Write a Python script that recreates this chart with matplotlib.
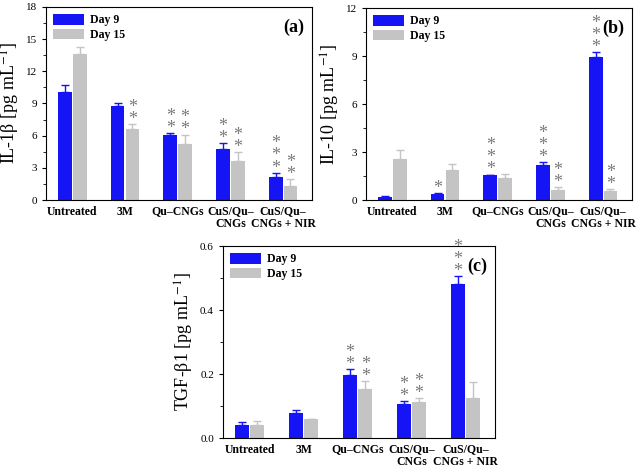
import numpy as np
import matplotlib.pyplot as plt
from matplotlib.ticker import AutoMinorLocator

plt.rcParams['font.family'] = ['Liberation Serif', 'DejaVu Serif']
plt.rcParams['mathtext.fontset'] = 'stix'

groups = ['Untreated', '3M', 'Qu\u2013CNGs', 'CuS/Qu\u2013\nCNGs', 'CuS/Qu\u2013\nCNGs + NIR']

il1b_d9 = [10.1, 8.8, 6.1, 4.8, 2.15]
il1b_d9_err = [0.6, 0.2, 0.15, 0.5, 0.4]
il1b_d15 = [13.6, 6.6, 5.2, 3.6, 1.35]
il1b_d15_err = [0.7, 0.5, 0.9, 0.9, 0.6]
il1b_d9_sig = ['', '', '**', '**', '***']
il1b_d15_sig = ['', '**', '**', '**', '**']

il10_d9 = [0.2, 0.4, 1.55, 2.2, 8.95]
il10_d9_err = [0.03, 0.05, 0.04, 0.15, 0.3]
il10_d15 = [2.55, 1.9, 1.35, 0.65, 0.55]
il10_d15_err = [0.55, 0.35, 0.25, 0.15, 0.12]
il10_d9_sig = ['', '*', '***', '***', '***']
il10_d15_sig = ['', '', '', '**', '**']

tgf_d9 = [0.04, 0.077, 0.196, 0.106, 0.48]
tgf_d9_err = [0.01, 0.012, 0.02, 0.01, 0.025]
tgf_d15 = [0.04, 0.058, 0.153, 0.112, 0.125]
tgf_d15_err = [0.012, 0.002, 0.025, 0.012, 0.05]
tgf_d9_sig = ['', '', '**', '**', '***']
tgf_d15_sig = ['', '', '**', '**', '']

blue = '#1414f5'
grey = '#c4c4c4'
w = 0.26


def stars(ax, xs, vals, errs, sigs, pad):
    for xi, v, e, s in zip(xs, vals, errs, sigs):
        if s:
            ax.text(xi, v + e + pad, '\n'.join(s), ha='center', va='bottom',
                    color='#7a7a7a', fontsize=13, linespacing=0.62)


def panel(ax, d9, e9, d15, e15, s9, s15, ymax, step, ylabel, tag):
    x = np.arange(len(groups))
    ax.bar(x - 0.14, d9, w, color=blue, label='Day 9')
    ax.bar(x + 0.14, d15, w, color=grey, label='Day 15')
    ax.errorbar(x - 0.14, d9, yerr=[np.zeros(5), e9], fmt='none', ecolor=blue,
                capsize=3, elinewidth=1)
    ax.errorbar(x + 0.14, d15, yerr=[np.zeros(5), e15], fmt='none', ecolor=grey,
                capsize=3, elinewidth=1)
    pad = -ymax * 0.02
    stars(ax, x - 0.14, d9, e9, s9, pad)
    stars(ax, x + 0.14, d15, e15, s15, pad)
    ax.set_xlim(-0.5, 4.55)
    ax.set_ylim(0, ymax)
    ax.set_yticks(np.arange(0, ymax + step / 2, step))
    ax.yaxis.set_minor_locator(AutoMinorLocator(2))
    ax.set_xticks(x)
    ax.set_xticklabels(groups, fontweight='bold', fontsize=8.5, linespacing=1.0)
    ax.tick_params(axis='y', labelsize=8, direction='out', length=3)
    ax.tick_params(axis='y', which='minor', direction='out', length=2)
    ax.tick_params(axis='x', length=0, pad=4)
    ax.set_ylabel(ylabel, fontsize=13, labelpad=3)
    ax.legend(loc='upper left', frameon=False, prop={'weight': 'bold', 'size': 8.5},
              handlelength=2.6, handleheight=1.0, borderaxespad=0.2, labelspacing=0.2,
              handletextpad=0.5)
    ax.text(0.97, 0.94, tag, transform=ax.transAxes, ha='right', va='top',
            fontsize=13, fontweight='bold')


fig = plt.figure(figsize=(6.4, 4.69), dpi=100)
ax1 = fig.add_axes([46 / 640, 1 - 200 / 469, 266 / 640, 193 / 469])
ax2 = fig.add_axes([366 / 640, 1 - 200 / 469, 266 / 640, 192 / 469])
ax3 = fig.add_axes([223 / 640, 1 - 438 / 469, 272 / 640, 192 / 469])

panel(ax1, il1b_d9, il1b_d9_err, il1b_d15, il1b_d15_err, il1b_d9_sig, il1b_d15_sig,
      18, 3, 'IL-1\u03b2 [pg mL$^{-1}$]', '(a)')
panel(ax2, il10_d9, il10_d9_err, il10_d15, il10_d15_err, il10_d9_sig, il10_d15_sig,
      12, 3, 'IL-10 [pg mL$^{-1}$]', '(b)')
panel(ax3, tgf_d9, tgf_d9_err, tgf_d15, tgf_d15_err, tgf_d9_sig, tgf_d15_sig,
      0.6, 0.2, 'TGF-\u03b21 [pg mL$^{-1}$]', '(c)')
ax1.set_yticklabels(['0', '3', '6', '9', '12', '15', '18'])

fig.savefig('out.png', dpi=100)
